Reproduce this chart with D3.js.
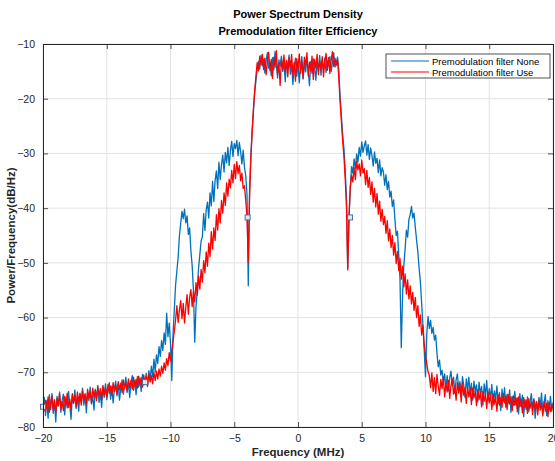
<!DOCTYPE html>
<html>
<head>
<meta charset="utf-8">
<script src="https://cdn.jsdelivr.net/npm/d3@7"></script>
<style>
html,body{margin:0;padding:0;background:#fff;}
svg{display:block;font-family:"Liberation Sans",Arial,Helvetica,sans-serif;}
</style>
</head>
<body>
<svg id="chart" width="555" height="461"></svg>
<script>
// ---- chart data ----
const titleLines = ["Power Spectrum Density", "Premodulation filter Efficiency"];
const xLabel = "Frequency (MHz)";
const yLabel = "Power/Frequency(dB/Hz)";
const seriesNames = ["Premodulation filter None", "Premodulation filter Use"];
const freqTicks = [-20, -15, -10, -5, 0, 5, 10, 15, 20];
const powerTicks = [-80, -70, -60, -50, -40, -30, -20, -10];
const freqRange = [-20, 20]; // MHz, samples evenly spaced over this span

// "None" series (blue), samples from -20 MHz to +20 MHz
const noneLeftFloor = [-76.3,-74.6,-77.9,-75.2,-78.4,-74.1,-76.8,-73.9,-77.5,-75.0,-79.1,-74.4,-76.2,-73.6,-77.3,-75.1,-74.0,-77.8,-74.7,-76.5,-73.5,-75.9,-78.6,-74.2,-75.7,-73.2,-76.6,-74.5,-77.1,-73.8,-75.3,-72.9,-76.0,-74.1,-77.4,-73.6,-75.2,-72.7,-75.8,-74.3,-76.9,-73.1,-74.8,-72.4,-75.5,-73.9,-76.4,-72.8,-74.6,-72.1,-75.0,-73.4,-71.9,-74.9,-72.6,-75.6,-73.0,-71.6,-74.3,-72.2,-75.1,-72.9,-71.4,-74.0,-72.5,-70.9,-73.7,-71.8,-74.6,-72.0,-70.6,-73.3,-71.5,-74.1,-70.8,-72.7,-71.1,-73.5,-70.4,-72.3,-71.8];
const noneLeftLobe = [-70.2,-72.6,-69.7,-71.3,-68.9,-70.8,-67.6,-69.9,-66.8,-68.4,-65.3,-67.1,-64.2,-66.0,-62.8,-64.9,-59.2,-63.5,-61.0,-64.8,
  -71.5,-63.0,-58.5,-54.0,-51.5,-49.0,-45.0,-42.8,-40.6,-41.9,-40.2,-42.7,-41.4,-44.8,-43.6,-47.8,-50.5,-55.0,-64.5,-58.0,-55.0,-51.0,-48.5,-46.0,
  -45.2,-41.0,-44.1,-40.3,-38.9,-41.8,-37.2,-39.6,-35.1,-38.8,-34.9,-33.2,-36.4,-31.6,-34.8,-32.0,-30.3,-33.4,-29.8,-31.7,-28.9,-32.2,-29.5,-27.8,-30.6,-28.2,-29.1,-27.6,-30.4,-28.0,-29.7,-31.9,-29.4,-32.5,-34.0,-37.5,
  -54.2,-37.0,-30.5,-26.0,-22.5,-19.0,-16.8,-14.5,-13.2,-14.6];
const noneTop = [-12.1,-14.0,-12.8,-15.3,-13.0,-11.6,-14.4,-13.3,-15.8,-12.5,-14.7,-11.4,-13.8,-16.2,-12.9,-14.1,-12.2,-15.0,-13.4,-16.9,-13.1,-14.6,-12.0,-15.5,-13.7,-17.4,-14.2,-12.6,-15.9,-13.5,-17.1,-14.0,-12.3,-16.4,-13.6,-15.1,-12.4,-14.8,-17.6,-13.2,-15.4,-12.7,-14.3,-16.6,-13.0,-14.9,-12.1,-15.7,-13.3,-14.5,-12.6,-15.2,-13.1,-14.0,-12.3,-15.0,-13.4,-11.6,-14.2];
const noneRightLobe = [-13.5,-12.4,-14.8,-19.5,-23.0,-26.5,-29.0,-33.0,-38.0,-51.0,-41.7,-36.5,-32.4,-33.6,
  -31.0,-32.8,-30.1,-31.6,-28.9,-30.5,-27.9,-29.8,-28.6,-27.7,-30.3,-28.4,-31.1,-29.0,-30.4,-32.3,-29.7,-31.8,-30.9,-33.5,-31.2,-34.1,-32.6,-33.4,-35.8,-33.9,-36.6,-35.1,-38.0,-36.9,-39.7,-38.5,-42.0,
  -45.0,-44.2,-48.5,-53.0,-65.5,-56.0,-50.5,-47.5,-44.0,-45.3,-42.0,-41.2,-39.7,-41.8,-40.9,-43.5,-45.8,-48.0,-51.0,-53.5,-57.5,-61.5,-66.0,-70.8,-63.0,-59.8,-62.0,-60.5,-62.9,-61.8,-64.1,-63.2,-66.5,-69.0,-67.8,-70.5,-69.6,-71.8,-70.3];
const noneRightFloor = [-72.9,-70.6,-73.4,-71.0,-69.8,-72.5,-70.9,-73.8,-71.4,-70.3,-73.0,-71.7,-74.2,-70.8,-72.4,-74.6,-71.2,-73.1,-70.9,-74.0,-72.0,-75.1,-71.6,-73.5,-72.3,-75.4,-71.8,-73.9,-72.6,-76.0,-72.1,-74.3,-71.5,-75.2,-73.0,-74.8,-72.2,-76.1,-73.4,-74.9,-72.5,-75.7,-73.7,-77.0,-73.1,-75.3,-72.8,-76.4,-74.0,-75.6,-73.2,-77.3,-74.4,-76.0,-73.5,-75.9,-74.7,-77.6,-73.9,-76.3,-74.2,-78.1,-75.0,-76.8,-74.5,-77.2,-75.4,-73.9,-76.7,-74.8,-78.4,-75.3,-77.0,-74.6,-76.2,-73.8,-77.5,-75.6,-74.1,-77.9,-75.2,-76.8,-74.4,-77.1,-75.5];

// "Use" series (red), samples from -20 MHz to +20 MHz
const useLeftFloor = [-74.2,-77.0,-75.1,-76.6,-74.5,-77.3,-75.8,-74.3,-76.9,-75.2,-77.4,-74.8,-76.1,-74.0,-76.7,-75.3,-77.0,-74.4,-75.9,-73.8,-76.4,-74.9,-76.8,-73.9,-75.6,-74.2,-76.3,-73.6,-75.4,-74.0,-76.0,-73.4,-75.1,-73.9,-75.8,-73.1,-74.7,-73.5,-75.5,-72.9,-74.6,-73.3,-75.2,-72.7,-74.3,-73.0,-74.9,-72.4,-74.1,-72.8,-74.5,-72.2,-73.8,-72.5,-74.2,-71.9,-73.5,-72.3,-74.0,-71.7,-73.2,-72.0,-73.7,-71.4,-73.0,-71.8,-73.4,-71.2,-72.8,-71.5,-73.1,-70.9,-72.6,-71.3,-72.9,-70.7,-72.3,-71.0,-72.7,-70.5,-72.0,-70.8,-72.4,-70.3,-71.8,-70.6,-72.1,-70.0,-71.5,-69.8,-71.2,-69.4,-70.7,-68.9,-70.2];
const useLeftLobe = [-68.3,-69.6,-67.5,-68.8,-66.4,-67.9,-66.0,-64.3,-62.5,-60.4,
  -57.8,-60.9,-58.6,-56.9,-60.2,-57.4,-61.0,-58.1,-55.8,-59.4,-56.3,-54.9,-58.0,-55.2,-57.1,-53.6,-55.9,-52.4,-54.8,-51.2,-53.5,-49.6,-51.8,-48.0,-50.6,-46.4,-48.9,-44.3,-47.5,-43.6,-45.9,-41.2,-44.0,-40.1,-42.7,-38.6,-40.9,-37.2,-39.5,-35.4,-37.8,-34.7,-36.3,-33.1,-35.4,-32.0,-34.6,-31.5,-33.7,-32.2,-35.0,-33.6,-36.4,-35.9,-38.5,-41.6,
  -49.8,-38.0,-31.0,-26.2,-22.0,-18.6,-15.9,-13.4,-14.9,-12.2];
const useTop = [-13.8,-11.9,-14.7,-12.6,-15.6,-13.2,-11.5,-14.9,-12.8,-16.3,-12.4,-14.3,-11.2,-15.4,-13.5,-17.6,-12.9,-14.5,-12.0,-15.1,-13.0,-16.0,-12.5,-14.2,-11.9,-15.7,-13.4,-16.8,-12.7,-14.6,-11.8,-15.3,-13.1,-16.2,-12.4,-14.0,-11.6,-15.8,-13.3,-14.9,-12.2,-16.5,-12.8,-14.4,-11.9,-15.6,-13.0,-14.7,-12.3,-16.0,-13.2,-11.7,-14.8,-12.5,-15.4,-13.0,-11.4,-14.1,-12.6];
const useRightLobe = [-13.9,-12.8,-16.2,-20.5,-24.0,-27.6,-30.4,-34.5,-39.5,-51.3,-41.6,-36.1,-34.0,-35.2,
  -32.6,-34.8,-31.4,-33.0,-31.9,-34.1,-31.2,-33.6,-32.8,-35.7,-33.1,-36.2,-34.4,-37.5,-35.2,-38.9,-36.4,-39.8,-37.3,-41.1,-38.7,-42.4,-40.2,-43.0,-41.5,-44.6,-42.3,-46.0,-43.8,-47.2,-45.0,-48.6,-46.3,-50.1,-47.9,-51.4,-49.2,-53.0,-50.6,-54.4,-52.0,-55.7,-53.1,-56.6,-54.2,-57.5,-55.4,-58.7,-56.3,-60.0,-57.8,-61.6,-59.5,-63.2,-61.4,-65.0,
  -66.8,-68.4,-69.9,-70.6,-72.8,-70.1,-73.5];
const useRightFloor = [-71.0,-73.9,-70.4,-72.6,-74.2,-71.3,-73.0,-70.8,-74.5,-72.1,-73.6,-71.5,-74.8,-72.4,-71.2,-74.0,-72.7,-75.1,-71.9,-73.8,-72.3,-75.4,-72.0,-74.2,-72.8,-75.7,-72.6,-74.5,-73.1,-75.9,-72.9,-74.7,-73.4,-76.1,-73.2,-75.0,-73.7,-76.3,-73.5,-75.3,-74.0,-76.6,-73.6,-75.6,-74.2,-76.8,-73.9,-75.8,-74.5,-77.1,-74.1,-76.0,-74.7,
  -76.4,-73.9,-75.6,-74.3,-76.8,-74.1,-75.8,-74.5,-77.0,-74.3,-76.0,-74.7,-77.2,-74.5,-76.3,-74.9,-77.4,-74.6,-76.4,-75.1,-77.5,-74.8,-76.6,-75.3,-77.7,-75.0,-76.8,-75.4,-77.8,-75.2,-76.9,-75.6,-78.0,-75.3,-77.1,-75.7,-78.1,-75.5,-77.2,-75.9,-76.6];

// data-tip markers seen on the reference: [MHz, dB]
const markerFreq = [-20, -12, -3.95, 4.08];
const markerPower = [-76.3, -71.8, -41.7, -41.7];

const noneValues = [].concat(noneLeftFloor, noneLeftLobe, noneTop, noneRightLobe, noneRightFloor);
const useValues = [].concat(useLeftFloor, useLeftLobe, useTop, useRightLobe, useRightFloor);

// ---- drawing ----
const W = 555, H = 461;
const M = {left: 43, right: 553, top: 44, bottom: 427};
const svg = d3.select("#chart");
svg.append("rect").attr("width", W).attr("height", H).attr("fill", "#fff");

const x = d3.scaleLinear().domain(freqRange).range([M.left, M.right]);
const y = d3.scaleLinear().domain([-80, -10]).range([M.bottom, M.top]);

const axisColor = "#262626";
const gridColor = "#e3e3e3";

// grid
const grid = svg.append("g");
grid.selectAll("line.gx").data(freqTicks).join("line")
  .attr("x1", d => x(d)).attr("x2", d => x(d))
  .attr("y1", M.top).attr("y2", M.bottom)
  .attr("stroke", gridColor).attr("stroke-width", 1);
grid.selectAll("line.gy").data(powerTicks).join("line")
  .attr("y1", d => y(d)).attr("y2", d => y(d))
  .attr("x1", M.left).attr("x2", M.right)
  .attr("stroke", gridColor).attr("stroke-width", 1);

// clip
svg.append("clipPath").attr("id", "clip").append("rect")
  .attr("x", M.left).attr("y", M.top)
  .attr("width", M.right - M.left).attr("height", M.bottom - M.top);

function toPoints(values) {
  const f = d3.scaleLinear().domain([0, values.length - 1]).range(freqRange);
  return values.map((v, i) => [f(i), v]);
}
const line = d3.line().x(d => x(d[0])).y(d => y(d[1]));

const plot = svg.append("g").attr("clip-path", "url(#clip)");
plot.append("path").datum(toPoints(noneValues))
  .attr("d", line).attr("fill", "none")
  .attr("stroke", "#0072BD").attr("stroke-width", 1.3).attr("stroke-linejoin", "round");
plot.append("path").datum(toPoints(useValues))
  .attr("d", line).attr("fill", "none")
  .attr("stroke", "#FF0000").attr("stroke-width", 1.3).attr("stroke-linejoin", "round");

// markers
svg.append("g").selectAll("rect").data(markerFreq.map((f, i) => [f, markerPower[i]])).join("rect")
  .attr("x", d => x(d[0]) - 2.5).attr("y", d => y(d[1]) - 2.5)
  .attr("width", 5).attr("height", 5)
  .attr("fill", "#dfe7f2").attr("stroke", "#4f6f9f").attr("stroke-width", 1);

// axes (MATLAB style: box, inward ticks on all sides)
const tickLen = 5;
const axB = d3.axisBottom(x).tickValues(freqTicks).tickSize(-tickLen).tickPadding(8).tickFormat(d3.format("d"));
const axT = d3.axisTop(x).tickValues(freqTicks).tickSize(-tickLen).tickFormat("");
const axL = d3.axisLeft(y).tickValues(powerTicks).tickSize(-tickLen).tickPadding(8).tickFormat(d3.format("d"));
const axR = d3.axisRight(y).tickValues(powerTicks).tickSize(-tickLen).tickFormat("");

function styleAxis(g) {
  g.select(".domain").attr("stroke", axisColor).attr("stroke-width", 1);
  g.selectAll(".tick line").attr("stroke", axisColor).attr("stroke-width", 0.8);
  g.selectAll(".tick text").attr("fill", axisColor).attr("font-size", 10.5)
    .attr("font-family", '"Liberation Sans",Arial,sans-serif');
}
svg.append("g").attr("transform", `translate(0,${M.bottom})`).call(axB).call(styleAxis);
svg.append("g").attr("transform", `translate(0,${M.top})`).call(axT).call(styleAxis);
svg.append("g").attr("transform", `translate(${M.left},0)`).call(axL).call(styleAxis);
svg.append("g").attr("transform", `translate(${M.right},0)`).call(axR).call(styleAxis);

// titles
svg.append("text").attr("x", x(0)).attr("y", 18).attr("text-anchor", "middle")
  .attr("font-weight", "bold").attr("font-size", 11).attr("fill", "#000").text(titleLines[0]);
svg.append("text").attr("x", x(0)).attr("y", 35).attr("text-anchor", "middle")
  .attr("font-weight", "bold").attr("font-size", 11).attr("fill", "#000").text(titleLines[1]);

svg.append("text").attr("x", x(0)).attr("y", 456).attr("text-anchor", "middle")
  .attr("font-weight", "bold").attr("font-size", 11.5).attr("fill", "#262626").text(xLabel);
svg.append("text").attr("transform", `translate(15,${(M.top + M.bottom) / 2}) rotate(-90)`)
  .attr("text-anchor", "middle")
  .attr("font-weight", "bold").attr("font-size", 11.5).attr("fill", "#262626").text(yLabel);

// legend
const lg = svg.append("g");
const lx = 386, ly = 54, lw = 164, lh = 24;
lg.append("rect").attr("x", lx).attr("y", ly).attr("width", lw).attr("height", lh)
  .attr("fill", "#fff").attr("stroke", axisColor).attr("stroke-width", 0.8);
const legColors = ["#0072BD", "#FF0000"];
seriesNames.forEach((name, i) => {
  const yy = ly + 7 + i * 11;
  lg.append("line").attr("x1", lx + 5).attr("x2", lx + 43).attr("y1", yy).attr("y2", yy)
    .attr("stroke", legColors[i]).attr("stroke-width", 1.1);
  lg.append("text").attr("x", lx + 46).attr("y", yy + 3.5).attr("font-size", 9.5)
    .attr("fill", "#000").text(name);
});
</script>
</body>
</html>
